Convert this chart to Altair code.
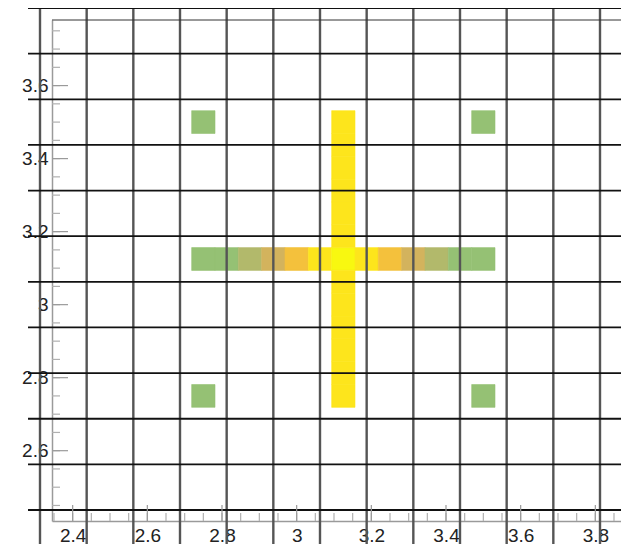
import altair as alt
import pandas as pd

# ---- data ----
bin_width = 0.0625

# horizontal bar of cells at y = 3.125
row_x = [2.75, 2.8125, 2.875, 2.9375, 3.0, 3.0625, 3.125, 3.1875, 3.25, 3.3125, 3.375, 3.4375, 3.5]
row_level = [1, 1, 2, 3, 4, 5, 6, 5, 4, 3, 2, 1, 1]
row_y = 3.125

# vertical bar of cells at x = 3.125 (centre cell belongs to the row)
col_y = [3.5, 3.4375, 3.375, 3.3125, 3.25, 3.1875, 3.0625, 3.0, 2.9375, 2.875, 2.8125, 2.75]
col_level = [5, 5, 5, 5, 5, 5, 5, 5, 5, 5, 5, 5]
col_x = 3.125

# four isolated corner cells
corner_x = [2.75, 3.5, 2.75, 3.5]
corner_y = [3.5, 3.5, 2.75, 2.75]
corner_level = [1, 1, 1, 1]

level_values = [1, 2, 3, 4, 5, 6]
level_colors = ["#95c174", "#b2b96b", "#d3b35d", "#f4c13c", "#fde51c", "#f8f810"]

# overlay grid (lines every 0.125, offset from the axis ticks)
vgrid_x = [2.3125, 2.4375, 2.5625, 2.6875, 2.8125, 2.9375, 3.0625, 3.1875,
           3.3125, 3.4375, 3.5625, 3.6875, 3.8125]
hgrid_y = [3.8125, 3.6875, 3.5625, 3.4375, 3.3125, 3.1875, 3.0625, 2.9375,
           2.8125, 2.6875, 2.5625, 2.4375]
vgrid_top, vgrid_bottom = 3.8125, 2.2
hgrid_left, hgrid_right = 2.2804, 4.0

# axes
x_domain = [2.34464, 3.86875]
y_domain = [2.40743, 3.77963]
x_major = [2.4, 2.6, 2.8, 3.0, 3.2, 3.4, 3.6, 3.8]
y_major = [2.6, 2.8, 3.0, 3.2, 3.4, 3.6]
x_minor = [round(2.35 + 0.05 * i, 2) for i in range(31)]
y_minor = [round(2.45 + 0.05 * i, 2) for i in range(27)]

# ---- tables ----
cells = []
for x, lv in zip(row_x, row_level):
    cells.append({"x": x, "y": row_y, "level": lv})
for y, lv in zip(col_y, col_level):
    cells.append({"x": col_x, "y": y, "level": lv})
for x, y, lv in zip(corner_x, corner_y, corner_level):
    cells.append({"x": x, "y": y, "level": lv})
cells = pd.DataFrame(cells)
cells["x0"] = cells["x"] - bin_width / 2
cells["x1"] = cells["x"] + bin_width / 2
cells["y0"] = cells["y"] - bin_width / 2
cells["y1"] = cells["y"] + bin_width / 2

vgrid = pd.DataFrame({"x": vgrid_x, "y0": vgrid_bottom, "y1": vgrid_top})
hgrid = pd.DataFrame({"y": hgrid_y, "x0": hgrid_left, "x1": hgrid_right})

W, H = 569, 501
AXIS_GRAY = "#9a9a9a"
FONT = "Liberation Sans"

xs = alt.Scale(domain=x_domain, nice=False, zero=False)
ys = alt.Scale(domain=y_domain, nice=False, zero=False)

xaxis = alt.Axis(values=x_major, format="~g", ticks=False, tickSize=0,
                 grid=False, labelPadding=5, domainColor=AXIS_GRAY,
                 domainWidth=1.5, labelFont=FONT, labelFontSize=19,
                 labelColor="#222", labelFlush=False, title=None)
yaxis = alt.Axis(values=y_major, format="~g", ticks=False, tickSize=0,
                 grid=False, labelPadding=4, domainColor=AXIS_GRAY,
                 domainWidth=1.5, labelFont=FONT, labelFontSize=19,
                 labelColor="#222", labelFlush=False, title=None)

heat = alt.Chart(cells).mark_rect(strokeWidth=0.6).encode(
    x=alt.X("x0:Q", scale=xs, axis=xaxis),
    x2="x1:Q",
    y=alt.Y("y0:Q", scale=ys, axis=yaxis),
    y2="y1:Q",
    color=alt.Color("level:Q", legend=None,
                    scale=alt.Scale(domain=level_values, range=level_colors)),
    stroke=alt.Stroke("level:Q", legend=None,
                      scale=alt.Scale(domain=level_values, range=level_colors)),
)

vlines = alt.Chart(vgrid).mark_rule(color="#555555", strokeWidth=2.4).encode(
    x=alt.X("x:Q", scale=xs, axis=xaxis),
    y=alt.Y("y0:Q", scale=ys, axis=yaxis),
    y2="y1:Q",
)

hlines = alt.Chart(hgrid).mark_rule(color="#111111", strokeWidth=1.8).encode(
    y=alt.Y("y:Q", scale=ys, axis=yaxis),
    x=alt.X("x0:Q", scale=xs, axis=xaxis),
    x2="x1:Q",
)

xmaj = alt.Chart(pd.DataFrame({"v": x_major})).mark_rule(color=AXIS_GRAY, strokeWidth=1.2).encode(
    x=alt.X("v:Q", scale=xs, axis=xaxis), y=alt.value(H), y2=alt.value(H - 16))
xmin = alt.Chart(pd.DataFrame({"v": x_minor})).mark_rule(color="#b0b0b0", strokeWidth=1.2).encode(
    x=alt.X("v:Q", scale=xs, axis=xaxis), y=alt.value(H), y2=alt.value(H - 8))
ymaj = alt.Chart(pd.DataFrame({"v": y_major})).mark_rule(color=AXIS_GRAY, strokeWidth=1.2).encode(
    y=alt.Y("v:Q", scale=ys, axis=yaxis), x=alt.value(0), x2=alt.value(16))
ymin = alt.Chart(pd.DataFrame({"v": y_minor})).mark_rule(color="#b0b0b0", strokeWidth=1.2).encode(
    y=alt.Y("v:Q", scale=ys, axis=yaxis), x=alt.value(0), x2=alt.value(8))

top = alt.Chart(pd.DataFrame({"a": [0]})).mark_rule(color="#333333", strokeWidth=1).encode(
    x=alt.value(0), x2=alt.value(W), y=alt.value(0))

chart = alt.layer(heat, vlines, hlines, xmin, xmaj, ymin, ymaj, top).properties(
    width=W, height=H,
    autosize=alt.AutoSizeParams(type="none"),
    padding={"left": 44, "top": 12, "right": 0, "bottom": 23},
    background="white",
).configure_view(stroke=None)

chart.save("out.html", embed_options={"renderer": "svg", "actions": False})
